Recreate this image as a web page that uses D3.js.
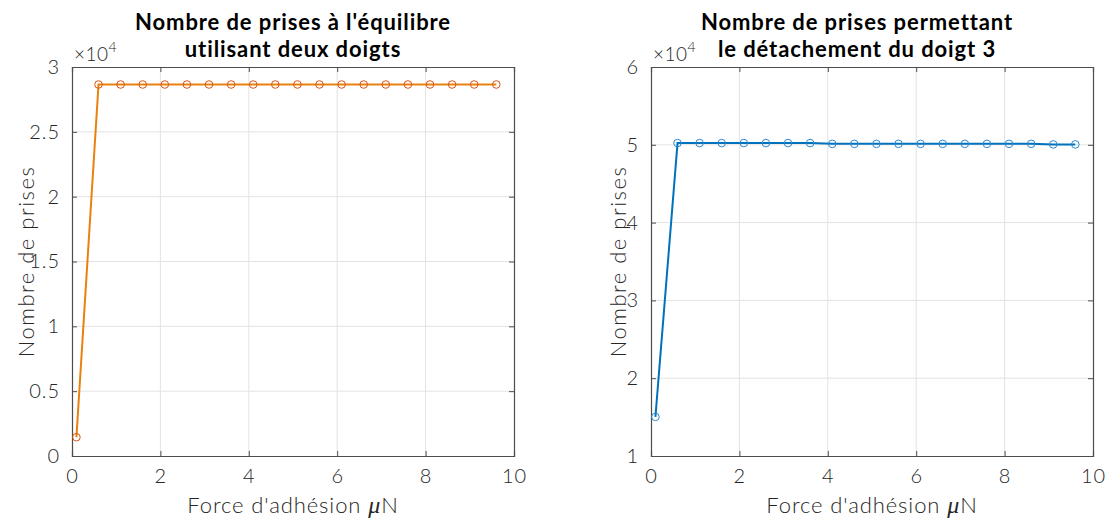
<!DOCTYPE html>
<html><head><meta charset="utf-8">
<script src="https://cdn.jsdelivr.net/npm/d3@7"></script>
<style>body{margin:0;background:#fff}svg{font-family:Lato,"DejaVu Sans",sans-serif}</style>
</head><body><svg id="c" width="1109" height="518"></svg>
<script>
const xValues = [0.1,0.6,1.1,1.6,2.1,2.6,3.1,3.6,4.1,4.6,5.1,5.6,6.1,6.6,7.1,7.6,8.1,8.6,9.1,9.6];
const leftValues = [1450,28650,28650,28650,28650,28650,28650,28650,28650,28650,28650,28650,28650,28650,28650,28650,28650,28650,28650,28650];
const rightValues = [15030,50220,50220,50220,50220,50220,50220,50220,50120,50120,50120,50120,50120,50120,50120,50120,50120,50120,50050,50050];
const leftTitle = ["Nombre de prises à l'équilibre","utilisant deux doigts"];
const rightTitle = ["Nombre de prises permettant","le détachement du doigt 3"];
const xTicks = [0,2,4,6,8,10];
const leftYTicks = [0,0.5,1,1.5,2,2.5,3];
const rightYTicks = [1,2,3,4,5,6];
const xLabel = "Force d'adhésion ";
const yLabel = "Nombre de prises";

const svg = d3.select("#c");
function panel(x0, values, yDomain, yTicks, title, lineColor, markColor, yLabelOff, titleOff){
  const W = 442, H = 389, top = 67;
  const g = svg.append("g").attr("transform",`translate(${x0},${top})`);
  const x = d3.scaleLinear().domain([0,10]).range([0,W]);
  const y = d3.scaleLinear().domain(yDomain).range([H,0]);
  g.append("g").selectAll("line").data(xTicks.slice(1,-1)).join("line")
    .attr("x1",d=>x(d)).attr("x2",d=>x(d)).attr("y1",0).attr("y2",H)
    .attr("stroke","#e3e3e3").attr("stroke-width",1);
  g.append("g").selectAll("line").data(yTicks.slice(1,-1)).join("line")
    .attr("y1",d=>y(d*1e4)).attr("y2",d=>y(d*1e4)).attr("x1",0).attr("x2",W)
    .attr("stroke","#e3e3e3").attr("stroke-width",1);
  const fmt = d=>String(d/1e4);
  const axB = d3.axisBottom(x).tickValues(xTicks).tickSize(-5).tickPadding(13).tickFormat(d=>d);
  const axT = d3.axisTop(x).tickValues(xTicks).tickSize(-5).tickFormat("");
  const axL = d3.axisLeft(y).tickValues(yTicks.map(d=>d*1e4)).tickSize(-5).tickPadding(12).tickFormat(fmt);
  const axR = d3.axisRight(y).tickValues(yTicks.map(d=>d*1e4)).tickSize(-5).tickFormat("");
  [[axB,`translate(0,${H})`],[axT,"translate(0,0)"],[axL,"translate(0,0)"],[axR,`translate(${W},0)`]].forEach(([a,t])=>{
    const ag = g.append("g").attr("transform",t).call(a);
    ag.select(".domain").attr("stroke","#4d4d4d").attr("stroke-width",1.2);
    ag.selectAll(".tick line").attr("stroke","#4d4d4d");
    ag.selectAll("text").attr("fill","#262626").attr("font-size",20).attr("letter-spacing",1)
      .style("font-family","Lato, sans-serif").style("font-weight","300");
  });
  const line = d3.line().x((d,i)=>x(xValues[i])).y(d=>y(d));
  g.append("path").datum(values).attr("d",line).attr("fill","none").attr("stroke",lineColor).attr("stroke-width",2);
  g.append("g").selectAll("circle").data(values).join("circle")
    .attr("cx",(d,i)=>x(xValues[i])).attr("cy",d=>y(d)).attr("r",3.8)
    .attr("fill","none").attr("stroke",markColor).attr("stroke-width",1);
  const ex = g.append("text").attr("x",2).attr("y",-6).attr("fill","#262626").attr("font-size",19)
    .style("font-weight","300").attr("letter-spacing",0.5);
  ex.append("tspan").text("×10");
  ex.append("tspan").attr("dy",-9).attr("font-size",14).text("4");
  const t = g.append("text").attr("text-anchor","middle").attr("font-weight","bold").attr("font-size",22)
    .attr("letter-spacing",0.9).attr("fill","#000");
  t.append("tspan").attr("x",W/2+titleOff).attr("y",-37).text(title[0]);
  t.append("tspan").attr("x",W/2+titleOff).attr("y",-10).text(title[1]);
  const xl = g.append("text").attr("x",W/2).attr("y",H+57).attr("text-anchor","middle").attr("font-size",22)
    .attr("letter-spacing",0.9).style("font-weight","300").attr("fill","#262626");
  xl.append("tspan").text(xLabel);
  xl.append("tspan").attr("font-style","italic").attr("font-family","Liberation Serif, serif").attr("font-size",24).text("μ");
  xl.append("tspan").text("N");
  g.append("text").attr("transform",`translate(${yLabelOff},${H/2}) rotate(-90)`).attr("text-anchor","middle")
    .attr("font-size",22).attr("letter-spacing",1.5).style("font-weight","300").attr("fill","#262626").text(yLabel);
}
panel(72, leftValues, [0,30000], leftYTicks, leftTitle, "#E8820C", "#D95319", -38, 0);
panel(651, rightValues, [10000,60000], rightYTicks, rightTitle, "#0072BD", "#2B8AD0", -25, -15);
</script></body></html>
